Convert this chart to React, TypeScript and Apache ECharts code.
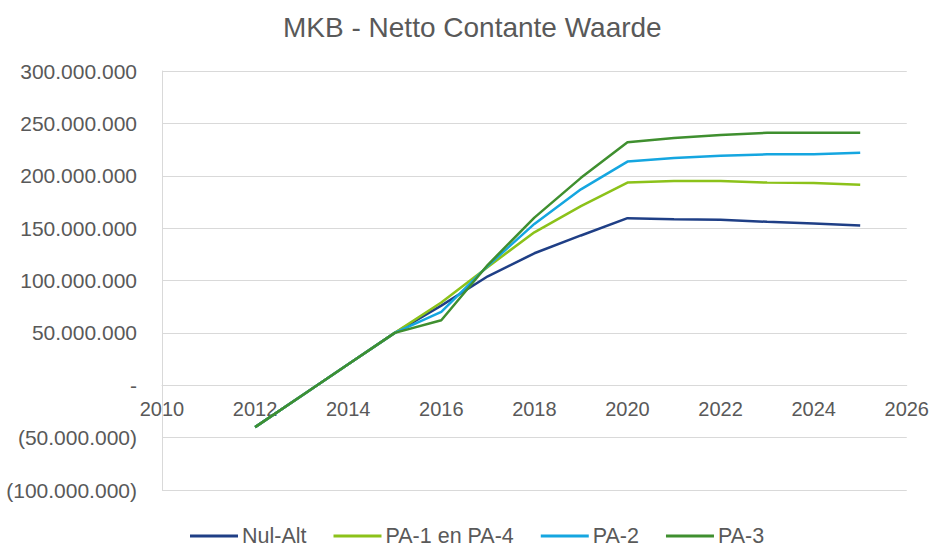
import React, { useEffect, useRef } from "react";
import * as echarts from "echarts";

const years = [2012, 2013, 2014, 2015, 2016, 2017, 2018, 2019, 2020, 2021, 2022, 2023, 2024, 2025];
const nulAlt = [-40e6, -10e6, 20e6, 50e6, 76e6, 104e6, 126e6, 143e6, 159.5e6, 158.5e6, 158e6, 156e6, 154.5e6, 152.5e6];
const pa1en4 = [-40e6, -10e6, 20e6, 50e6, 79e6, 113e6, 146e6, 171e6, 193.5e6, 195e6, 195e6, 193.5e6, 193e6, 191.5e6];
const pa2 = [-40e6, -10e6, 20e6, 50e6, 70e6, 114e6, 154e6, 187e6, 213.5e6, 217e6, 219e6, 220.5e6, 220.5e6, 222e6];
const pa3 = [-40e6, -10e6, 20e6, 50e6, 62e6, 115e6, 160e6, 198e6, 232e6, 236e6, 239e6, 241e6, 241e6, 241e6];

const seriesNames = ["Nul-Alt", "PA-1 en PA-4", "PA-2", "PA-3"];
const seriesData = [nulAlt, pa1en4, pa2, pa3];
const colors = ["#1f3f86", "#8cc21a", "#15a6e0", "#3f8f2f"];

const fmt = (v: number) => {
  if (v === 0) return "-";
  const s = Math.abs(v).toFixed(0).replace(/\B(?=(\d{3})+(?!\d))/g, ".");
  return v < 0 ? `(${s})` : s;
};

export default function App() {
  const ref = useRef<HTMLDivElement>(null);
  useEffect(() => {
    const chart = echarts.init(ref.current!, undefined, { renderer: "svg" });
    const font = "'Liberation Sans', Arial, sans-serif";
    const gridTop = 71;
    const gridBottom = 57;
    const plotH = 547 - gridTop - gridBottom;
    const zeroOffset = -(plotH * 100e6) / 400e6;
    chart.setOption({
      animation: false,
      backgroundColor: "#ffffff",
      textStyle: { fontFamily: font },
      title: {
        text: "MKB - Netto Contante Waarde",
        left: 278,
        top: 8,
        textStyle: { fontFamily: font, fontSize: 28, fontWeight: "normal", color: "#595959" },
      },
      legend: {
        bottom: 0,
        left: 190,
        padding: 0,
        itemWidth: 48,
        itemHeight: 3,
        itemGap: 27,
        icon: "rect",
        textStyle: { fontFamily: font, fontSize: 21.5, color: "#595959", padding: [0, 0, 0, -1] },
        data: seriesNames,
      },
      grid: { left: 162, right: 24, top: gridTop, bottom: gridBottom },
      xAxis: {
        type: "value",
        min: 2010,
        max: 2026,
        interval: 2,
        offset: zeroOffset,
        axisLine: { onZero: false, lineStyle: { color: "#d9d9d9", width: 1 } },
        axisTick: { show: false },
        splitLine: { show: false },
        axisLabel: { color: "#595959", fontSize: 20, fontFamily: font, margin: 14, formatter: (v: number) => String(v) },
      },
      yAxis: {
        type: "value",
        min: -100e6,
        max: 300e6,
        interval: 50e6,
        axisLine: { show: true, onZero: false, lineStyle: { color: "#d9d9d9", width: 1 } },
        axisTick: { show: false },
        splitLine: { lineStyle: { color: "#d9d9d9", width: 1 } },
        axisLabel: { color: "#595959", fontSize: 21, fontFamily: font, margin: 25, formatter: fmt },
      },
      series: seriesNames.map((name, i) => ({
        name,
        type: "line",
        symbol: "none",
        color: colors[i],
        lineStyle: { width: 2.5, color: colors[i] },
        data: years.map((y, j) => [y, seriesData[i][j]]),
      })),
    });
    return () => chart.dispose();
  }, []);
  return <div ref={ref} style={{ position: "fixed", left: 0, top: 0, width: 932, height: 547 }} />;
}
